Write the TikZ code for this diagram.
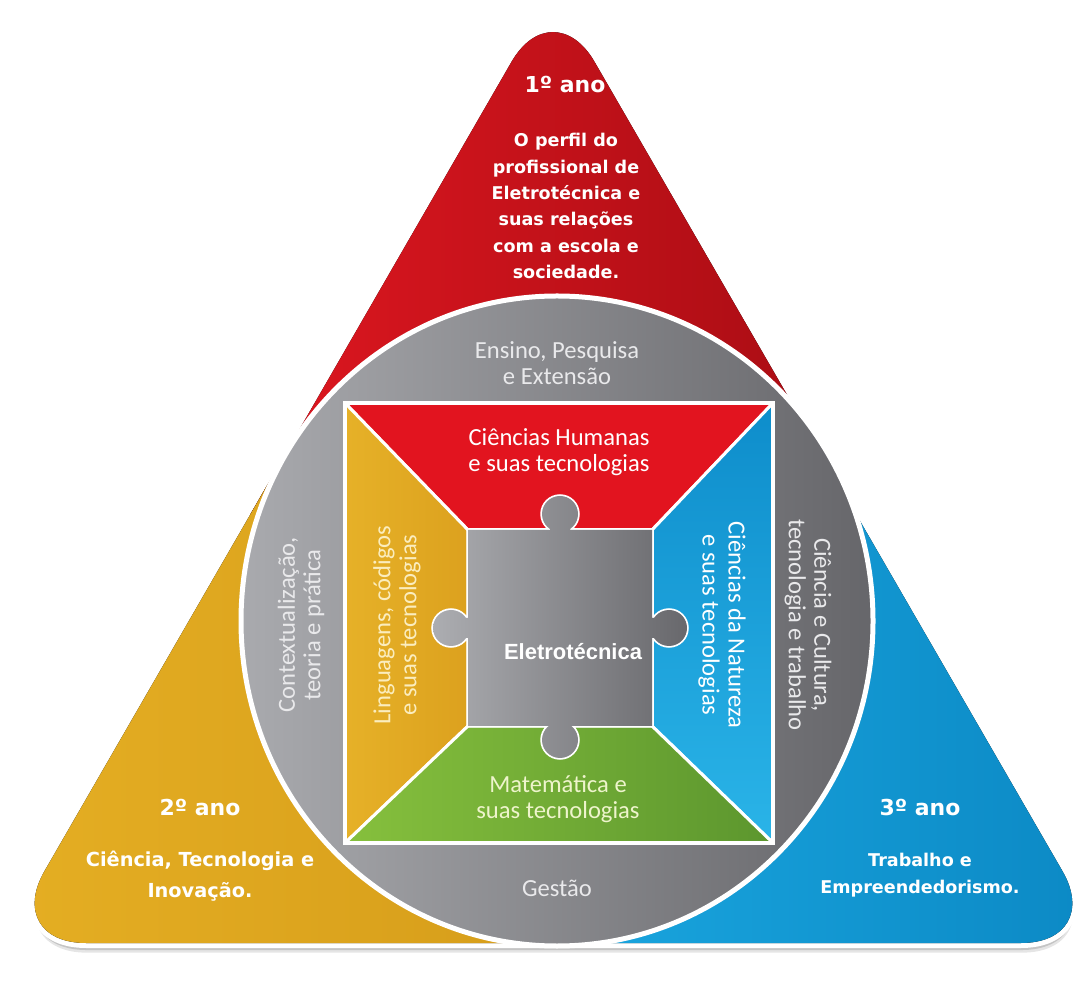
\documentclass[tikz,border=0pt]{standalone}
\usepackage{fontspec}
\usepackage{tikz}
\usetikzlibrary{shadows}
\setmainfont{DejaVu Sans}
\newfontfamily\ringfont{Carlito}
\newfontfamily\corefont{Liberation Sans}
\definecolor{triRedL}{HTML}{DE1720}
\definecolor{triRedR}{HTML}{A60C13}
\definecolor{triYelL}{HTML}{E6B024}
\definecolor{triYelR}{HTML}{D69D1A}
\definecolor{triBluL}{HTML}{1AA6DF}
\definecolor{triBluR}{HTML}{0A86C2}
\definecolor{ringL}{HTML}{A9AAAE}
\definecolor{ringR}{HTML}{66666A}
\definecolor{pieceL}{HTML}{ACADB1}
\definecolor{pieceR}{HTML}{68686C}
\definecolor{areaRed}{HTML}{E2141F}
\definecolor{areaYelL}{HTML}{E6B128}
\definecolor{areaYelR}{HTML}{DCA11E}
\definecolor{areaBluT}{HTML}{0E8DCB}
\definecolor{areaBluB}{HTML}{2AB4E8}
\definecolor{areaGrnL}{HTML}{86C03D}
\definecolor{areaGrnR}{HTML}{5C962E}
\definecolor{ringText}{HTML}{E9E9EB}
\definecolor{yelText}{HTML}{FBEDBE}
\definecolor{grnText}{HTML}{EEF4CC}

\begin{document}
\begin{tikzpicture}[x=0.02cm, y=0.02cm,
  yeartitle/.style={text=white, font=\bfseries\fontsize{12.5}{15}\selectfont},
  yeartext/.style={text=white, align=center, font=\bfseries\fontsize{10}{15}\selectfont},
  ringlabel/.style={text=ringText, align=center, font=\ringfont\fontsize{14}{14.5}\selectfont},
  arealabel/.style={align=center, font=\ringfont\fontsize{14}{14.8}\selectfont},
  corelabel/.style={text=white, font=\corefont\bfseries\fontsize{12.5}{15}\selectfont},
  separator/.style={draw=white, line width=0.06cm, line join=round}]

\path[use as bounding box, fill=white] (0,0) rectangle (1077,980);

\coordinate (apex) at (553,990);
\coordinate (rightcorner) at (1104,37);
\coordinate (leftcorner) at (3,37);
\coordinate (hub) at (557,359);

\path[fill=white, draw=white, line width=0.2cm, rounded corners=1.66cm,
      drop shadow={shadow xshift=0.5pt, shadow yshift=-5.5pt, opacity=.10, fill=black},
      drop shadow={shadow xshift=0.3pt, shadow yshift=-4pt, opacity=.14, fill=black}]
  (apex) -- (rightcorner) -- (leftcorner) -- cycle;

\begin{scope}
  \clip[rounded corners=1.66cm] (apex) -- (rightcorner) -- (leftcorner) -- cycle;
  \fill[left color=triRedL, right color=triRedR] (250,400) rectangle (860,1000);
  \fill[left color=triYelL, right color=triYelR] (hub) -- (3,677) -- (-50,677) -- (-50,-50) -- (557,-50) -- cycle;
  \fill[left color=triBluL, right color=triBluR] (hub) -- (557,-50) -- (1150,-50) -- (1150,677) -- (1111,677) -- cycle;
\end{scope}

\path[draw=white, line width=0.1cm, left color=ringL, right color=ringR]
  (hub) ellipse [x radius=316, y radius=325];

\coordinate (sqTL) at (345,577);
\coordinate (sqTR) at (773,577);
\coordinate (sqBR) at (773,137);
\coordinate (sqBL) at (345,137);
\coordinate (pzTL) at (468,450);
\coordinate (pzTR) at (652,450);
\coordinate (pzBR) at (652,254);
\coordinate (pzBL) at (468,254);

\path[separator, fill=areaRed] (sqTL) -- (sqTR) -- (pzTR) -- (pzTL) -- cycle;
\path[separator, left color=areaYelL, right color=areaYelR] (sqTL) -- (pzTL) -- (pzBL) -- (sqBL) -- cycle;
\path[separator, top color=areaBluT, bottom color=areaBluB] (sqTR) -- (sqBR) -- (pzBR) -- (pzTR) -- cycle;
\path[separator, left color=areaGrnL, right color=areaGrnR] (sqBL) -- (pzBL) -- (pzBR) -- (sqBR) -- cycle;
\draw[white, line width=0.09cm] (sqTL) rectangle (sqBR);

\path[draw=white, line width=0.07cm]
  (pzBL) -- (pzBR) -- (pzTR) -- (pzTL) -- cycle
  (560,466) circle [radius=18] (560,240) circle [radius=18]
  (451,352) circle [radius=18] (669,352) circle [radius=18];
\path[left color=pieceL, right color=pieceR]
  (pzBL) -- (pzBR) -- (pzTR) -- (pzTL) -- cycle
  (560,466) circle [radius=18] (560,240) circle [radius=18]
  (451,352) circle [radius=18] (669,352) circle [radius=18]
  (550,440) -- (570,440) -- (570,466) -- (550,466) -- cycle
  (550,240) -- (570,240) -- (570,264) -- (550,264) -- cycle
  (451,342) -- (474,342) -- (474,362) -- (451,362) -- cycle
  (646,342) -- (669,342) -- (669,362) -- (646,362) -- cycle;

\node[yeartitle] (firstyear) at (565,895) {1º ano};
\node[yeartext] (firsttheme) at (566,774) {O perfil do\\profissional de\\Eletrotécnica e\\suas relações\\com a escola e\\sociedade.};
\node[yeartitle] (secondyear) at (200,172) {2º ano};
\node[yeartext, font=\bfseries\fontsize{11}{18}\selectfont] (secondtheme) at (200,104) {Ciência, Tecnologia e\\Inovação.};
\node[yeartitle] (thirdyear) at (920,172) {3º ano};
\node[yeartext] (thirdtheme) at (920,105) {Trabalho e\\Empreendedorismo.};

\node[ringlabel] (ensino) at (557,617) {Ensino, Pesquisa\\e Extensão};
\node[ringlabel, rotate=90] (contexto) at (301,355) {Contextualização,\\teoria e prática};
\node[ringlabel, rotate=-90] (cultura) at (808,355) {Ciência e Cultura,\\tecnologia e trabalho};
\node[ringlabel] (gestao) at (557,92) {Gestão};

\node[arealabel, text=white] (humanas) at (559,528) {Ciências Humanas\\e suas tecnologias};
\node[arealabel, text=yelText, rotate=90] (linguagens) at (397,355) {Linguagens, códigos\\e suas tecnologias};
\node[arealabel, text=white, rotate=-90] (natureza) at (722,355) {Ciências da Natureza\\e suas tecnologias};
\node[arealabel, text=grnText] (matematica) at (558,181) {Matemática e\\suas tecnologias};
\node[corelabel] (eletro) at (573,328) {Eletrotécnica};

\end{tikzpicture}
\end{document}
